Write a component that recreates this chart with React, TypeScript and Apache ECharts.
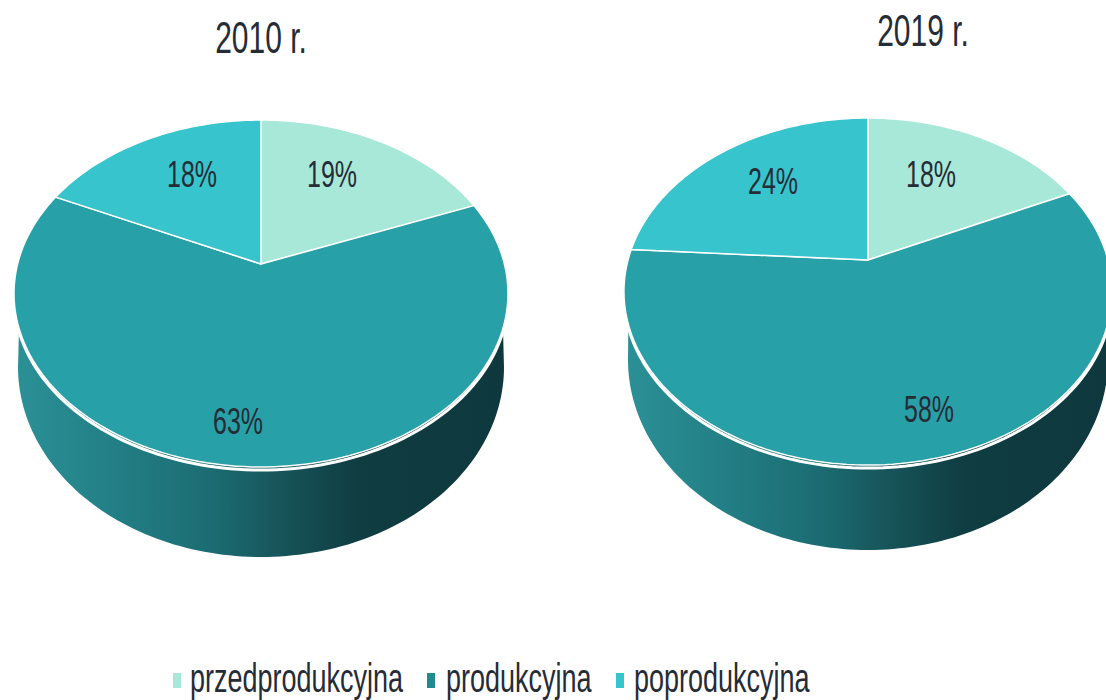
import React, { useEffect, useRef } from "react";
import * as echarts from "echarts";

const categories = ["przedprodukcyjna", "produkcyjna", "poprodukcyjna"];
const colors = ["#a8e8d8", "#28a0a8", "#38c4cc"];
const legendColors = ["#a8e8d8", "#1f8a90", "#38c4cc"];
const years = ["2010 r.", "2019 r."];
const values2010 = [19, 63, 18];
const values2019 = [18, 58, 24];

const FONT = "'Liberation Sans Narrow', 'Liberation Sans', sans-serif";
const TEXT = "#262c36";

const pies = [
  {
    values: values2010, title: years[0], titleXY: [261, 38],
    apex: [261, 264], rx: 243.4, ry: 168.5, k: 0.17,
    bottom: { cy: 367, rx: 243, ry: 190 },
    labels: [[332, 174], [238, 421], [192, 174]],
  },
  {
    values: values2019, title: years[1], titleXY: [923, 31],
    apex: [868, 260], rx: 240, ry: 167.8, k: 0.1817,
    bottom: { cy: 360, rx: 240, ry: 190 },
    labels: [[931, 174], [929, 409], [773, 181]],
  },
];

const legendMarkerX = [173, 427, 616];
const legendTextX = [190, 446, 634];

const wallStops = [
  { offset: 0, color: "#2b9096" },
  { offset: 0.2, color: "#227f85" },
  { offset: 0.4, color: "#1b6c72" },
  { offset: 0.55, color: "#165358" },
  { offset: 0.7, color: "#0f3d42" },
  { offset: 1, color: "#0e383d" },
];

type Pie = (typeof pies)[number];

function project(p: Pie, deg: number, dy = 0): number[] {
  const t = (deg * Math.PI) / 180;
  const d = 1 + p.k * Math.cos(t);
  return [p.apex[0] + (p.rx * Math.sin(t)) / d, p.apex[1] - (p.ry * Math.cos(t)) / d + dy];
}

function arcPoints(p: Pie, from: number, to: number, dy = 0): number[][] {
  const n = Math.max(2, Math.ceil(Math.abs(to - from) / 1.5));
  const out: number[][] = [];
  for (let i = 0; i <= n; i++) out.push(project(p, from + ((to - from) * i) / n, dy));
  return out;
}

function bottomPoints(p: Pie): number[][] {
  const out: number[][] = [];
  for (let a = 270; a >= 90; a -= 1.5) {
    const t = (a * Math.PI) / 180;
    out.push([p.apex[0] + p.bottom.rx * Math.sin(t), p.bottom.cy - p.bottom.ry * Math.cos(t)]);
  }
  return out;
}

function pieSeries(p: Pie) {
  return {
    type: "custom",
    coordinateSystem: "none",
    silent: true,
    data: p.values,
    renderItem: (params: any) => {
      const i = params.dataIndex;
      const total = p.values.reduce((a, b) => a + b, 0);
      const before = p.values.slice(0, i).reduce((a, b) => a + b, 0);
      const a0 = (before / total) * 360;
      const a1 = ((before + p.values[i]) / total) * 360;
      const children: any[] = [];
      if (i === 0) {
        children.push({
          type: "polygon",
          shape: { points: [...arcPoints(p, 111, 249), ...bottomPoints(p)] },
          style: { fill: new echarts.graphic.LinearGradient(0, 0, 1, 0, wallStops) },
        });
        children.push({
          type: "polyline",
          shape: { points: arcPoints(p, 111, 249, 3) },
          style: { fill: "none", stroke: "#ffffff", lineWidth: 3 },
        });
      }
      children.push({
        type: "polygon",
        shape: { points: [p.apex, ...arcPoints(p, a0, a1)] },
        style: { fill: colors[i], stroke: "#ffffff", lineWidth: 1.5, lineJoin: "round" },
      });
      children.push({
        type: "text",
        x: p.labels[i][0],
        y: p.labels[i][1],
        scaleY: 1.5,
        style: {
          text: `${p.values[i]}%`,
          x: 0, y: 0,
          fill: TEXT,
          font: `25px ${FONT}`,
          textAlign: "center",
          textVerticalAlign: "middle",
        },
      });
      if (i === 0) {
        children.push({
          type: "text",
          x: p.titleXY[0],
          y: p.titleXY[1],
          scaleY: 1.45,
          style: {
            text: p.title,
            x: 0, y: 0,
            fill: TEXT,
            font: `30px ${FONT}`,
            textAlign: "center",
            textVerticalAlign: "middle",
          },
        });
      }
      return { type: "group", children };
    },
  };
}

const legendSeries = {
  type: "custom",
  coordinateSystem: "none",
  silent: true,
  data: categories,
  renderItem: (params: any) => {
    const i = params.dataIndex;
    return {
      type: "group",
      children: [
        {
          type: "rect",
          shape: { x: legendMarkerX[i], y: 673, width: 8, height: 15 },
          style: { fill: legendColors[i] },
        },
        {
          type: "text",
          x: legendTextX[i],
          y: 678,
          scaleY: 1.5,
          style: {
            text: categories[i],
            x: 0, y: 0,
            fill: TEXT,
            font: `27px ${FONT}`,
            textAlign: "left",
            textVerticalAlign: "middle",
          },
        },
      ],
    };
  },
};

export default function App() {
  const ref = useRef<HTMLDivElement>(null);
  useEffect(() => {
    document.body.style.margin = "0";
    const chart = echarts.init(ref.current!, undefined, { renderer: "svg" });
    chart.setOption({
      animation: false,
      backgroundColor: "#ffffff",
      series: [...pies.map(pieSeries), legendSeries],
    });
    return () => chart.dispose();
  }, []);
  return <div ref={ref} style={{ width: 1106, height: 700, overflow: "hidden" }} />;
}
